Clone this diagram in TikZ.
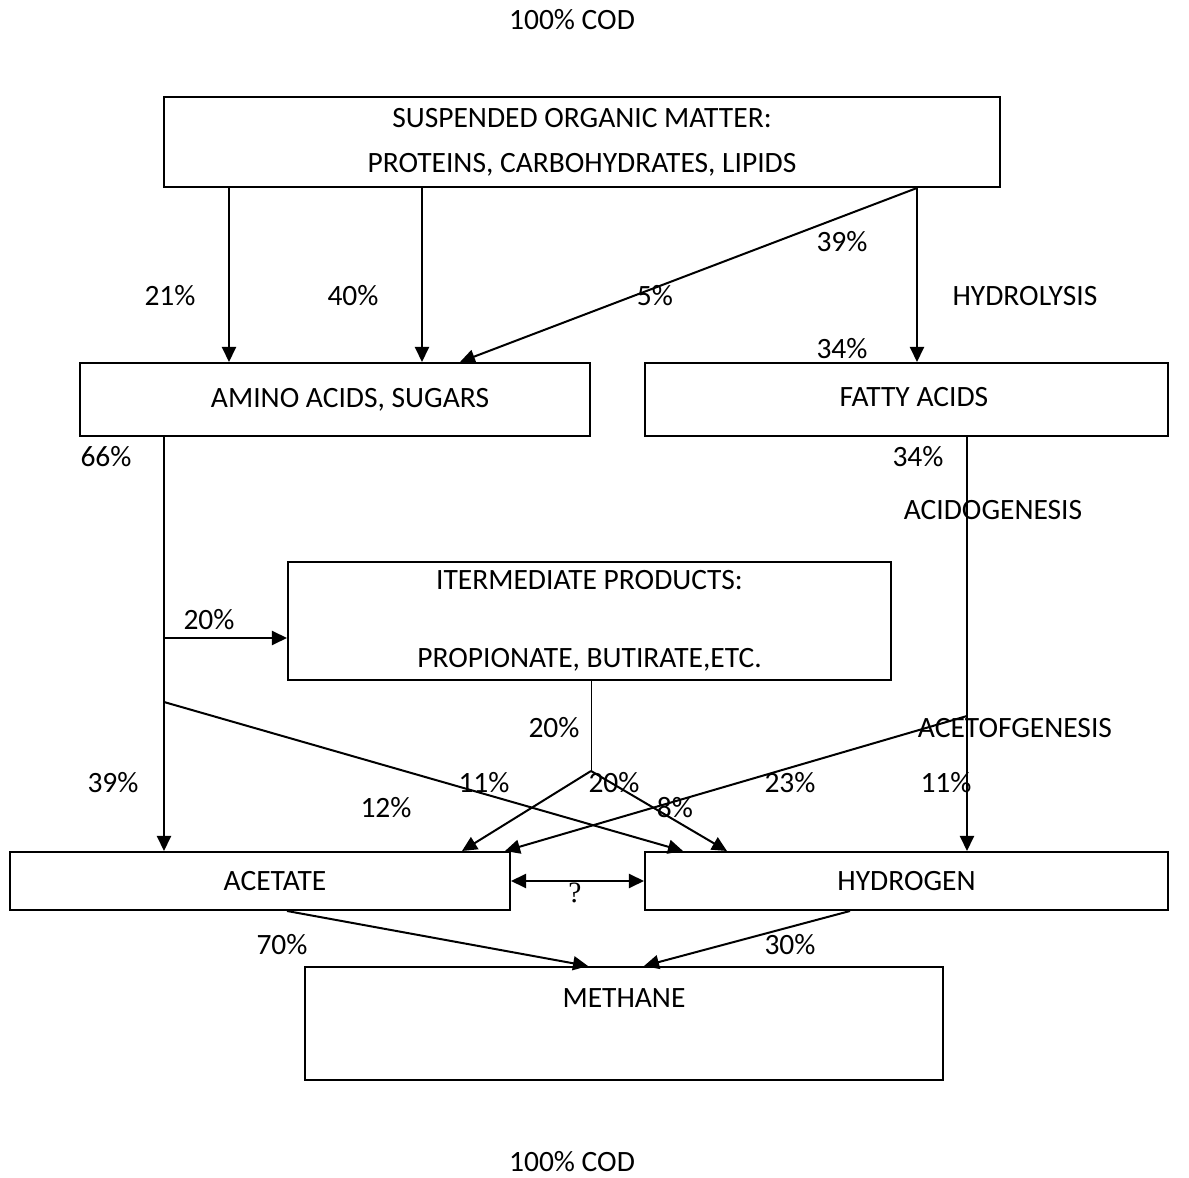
\documentclass[tikz,border=0pt]{standalone}
\usepackage{fontspec}
\setmainfont{Carlito}
\newfontfamily\qfont{Liberation Serif}
\usepackage{tikz}
\usetikzlibrary{positioning, arrows.meta}

\begin{document}
\begin{tikzpicture}[x=0.4pt, y=-0.4pt,
  every node/.style={font=\fontsize{11.8pt}{14pt}\selectfont},
  box/.style={draw, line width=0.8pt, align=center, inner sep=0pt},
  arr/.style={line width=0.8pt, -{Triangle[length=6pt,width=5.6pt]}},
  lbl/.style={inner sep=0pt}]
\useasboundingbox (0,0) rectangle (1189,1178);
% boxes
\node [box, minimum width=334.4pt, minimum height=36pt] (top) at (582,142)
  {SUSPENDED ORGANIC MATTER:\\[4pt]PROTEINS, CARBOHYDRATES, LIPIDS};
\node [box, minimum width=204pt, minimum height=29.2pt] (amino) at (335,399.5) {\raisebox{1.5pt}{\hspace{12pt}AMINO ACIDS, SUGARS}};
\node [box, minimum width=209.2pt, minimum height=29.2pt] (fatty) at (906.5,399.5) {\raisebox{2pt}{\hspace{6pt}FATTY ACIDS}};
\node [box, minimum width=241.2pt, minimum height=47.2pt] (inter) at (589.5,621)
  {ITERMEDIATE PRODUCTS:\\[17pt]PROPIONATE, BUTIRATE,ETC.};
\node [box, minimum width=200pt, minimum height=23.2pt] (acetate) at (260,881) {\hspace{12pt}ACETATE};
\node [box, minimum width=209.2pt, minimum height=23.2pt] (hydrogen) at (906.5,881) {HYDROGEN};
\node [box, minimum width=255.2pt, minimum height=45.2pt] (methane) at (624,1023.5) {};
\node [lbl] (methanetxt) at (624,998) {METHANE};
% x positions of the connectors
\foreach \c in {164,229,287,422,460,462,505,588,591,644,683,727,850,917,967}
  \coordinate (c\c) at (\c,0);
\coordinate (b1) at (164,638);
\coordinate (b2) at (164,702);
\coordinate (m) at (591,771);
\coordinate (f1) at (967,716);
% hydrolysis
\draw [arr] (top.south -| c229) -- (amino.north -| c229);
\draw [arr] (top.south -| c422) -- (amino.north -| c422);
\draw [arr] (top.south -| c917) -- (amino.north -| c460);
\draw [arr] (top.south -| c917) -- (fatty.north -| c917);
% acidogenesis
\draw [arr] (amino.south -| c164) -- (acetate.north -| c164);
\draw [arr] (b1) -- (inter.west |- b1);
\draw [arr] (b2) -- (hydrogen.north -| c683);
\draw [line width=0.4pt] (inter.south -| c591) -- (m);
\draw [arr] (m) -- (acetate.north -| c462);
\draw [arr] (m) -- (hydrogen.north -| c727);
\draw [arr] (fatty.south -| c967) -- (hydrogen.north -| c967);
\draw [arr] (f1) -- (acetate.north -| c505);
\draw [line width=0.8pt, {Triangle[length=6pt,width=5.6pt]}-{Triangle[length=6pt,width=5.6pt]}] (acetate.east) -- (hydrogen.west);
% methanogenesis
\draw [arr] (acetate.south -| c287) -- (methane.north -| c588);
\draw [arr] (hydrogen.south -| c850) -- (methane.north -| c644);
% labels
\node [lbl] (codtop) at (572,20) {100\% COD};
\node [lbl] (codbot) at (572,1162) {100\% COD};
\node [lbl] (p21) at (170,296) {21\%};
\node [lbl] (p40) at (353,296) {40\%};
\node [lbl] (p5) at (655,296) {5\%};
\node [lbl] (p39a) at (842,242) {39\%};
\node [lbl] (p34a) at (842,349) {34\%};
\node [lbl] (hydro) at (1025,296) {HYDROLYSIS};
\node [lbl] (p66) at (106,457) {66\%};
\node [lbl] (p34b) at (918,457) {34\%};
\node [lbl] (acido) at (993,510) {ACIDOGENESIS};
\node [lbl] (p20a) at (209,620) {20\%};
\node [lbl] (p20b) at (554,728) {20\%};
\node [lbl] (aceto) at (1015,728) {ACETOFGENESIS};
\node [lbl] (p39b) at (113,783) {39\%};
\node [lbl] (p11a) at (484,783) {11\%};
\node [lbl] (p20c) at (614,783) {20\%};
\node [lbl] (p23) at (790,783) {23\%};
\node [lbl] (p11b) at (946,783) {11\%};
\node [lbl] (p12) at (386,808) {12\%};
\node [lbl] (p8) at (675,808) {8\%};
\node [lbl] (qm) at (575,893) {\qfont ?};
\node [lbl] (p70) at (282,945) {70\%};
\node [lbl] (p30) at (790,945) {30\%};
\end{tikzpicture}
\end{document}
